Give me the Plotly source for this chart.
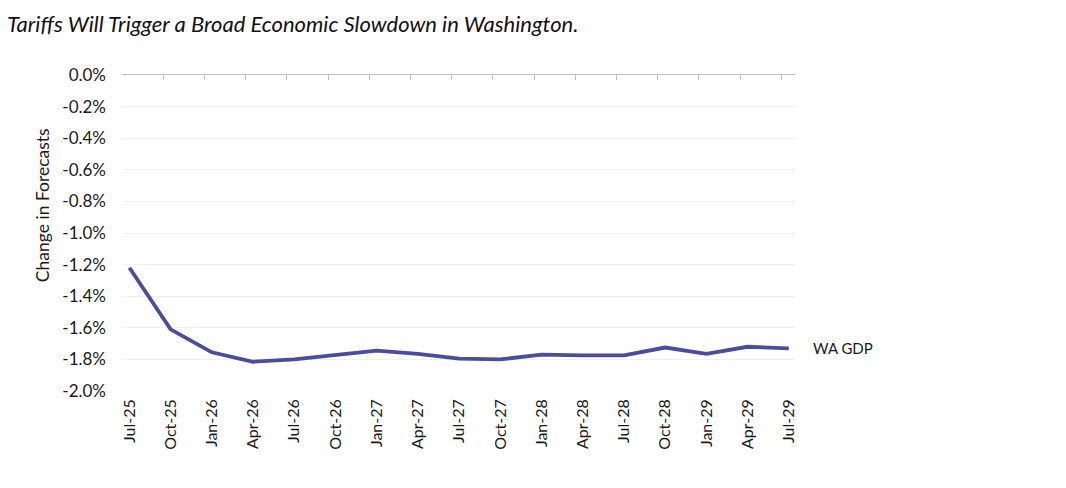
import plotly.graph_objects as go

categories = ["Jul-25", "Oct-25", "Jan-26", "Apr-26", "Jul-26", "Oct-26", "Jan-27", "Apr-27",
              "Jul-27", "Oct-27", "Jan-28", "Apr-28", "Jul-28", "Oct-28", "Jan-29", "Apr-29", "Jul-29"]
wa_gdp_pct = [-1.22, -1.61, -1.755, -1.815, -1.80, -1.775, -1.745, -1.765,
              -1.795, -1.80, -1.77, -1.775, -1.775, -1.725, -1.765, -1.72, -1.73]
ytick_vals = [0.0, -0.2, -0.4, -0.6, -0.8, -1.0, -1.2, -1.4, -1.6, -1.8, -2.0]
ytick_text = ["0.0%", "-0.2%", "-0.4%", "-0.6%", "-0.8%", "-1.0%", "-1.2%", "-1.4%",
              "-1.6%", "-1.8%", "-2.0%"]

FONT = "Lato"
TXT = "#1a1a1a"
xs = list(range(len(categories)))

fig = go.Figure()
fig.add_trace(go.Scatter(x=xs, y=wa_gdp_pct, mode="lines", name="WA GDP",
                         line=dict(color="#4a4c9c", width=3.8), showlegend=False))
fig.add_trace(go.Scatter(x=xs, y=wa_gdp_pct, xaxis="x2", mode="lines",
                         line=dict(width=0), hoverinfo="skip", showlegend=False))

xr = [-0.18, 16.15]
fig.update_layout(
    width=1050, height=472,
    margin=dict(l=114, r=263, t=67, b=89),
    paper_bgcolor="white", plot_bgcolor="white",
    font=dict(family=FONT, size=16, color=TXT),
    xaxis=dict(range=xr, tickmode="array", tickvals=xs, ticktext=categories,
               tickangle=-90, showgrid=False, zeroline=False, showline=False,
               ticks="", ticklabelstandoff=4, tickfont=dict(size=16, color=TXT)),
    xaxis2=dict(range=xr, overlaying="x", side="top", anchor="y",
                tickmode="array", tickvals=[i - 0.18 for i in range(17)],
                showticklabels=False, ticks="inside", ticklen=5, tickcolor="#bfbfbf",
                showline=True, linecolor="#bfbfbf", linewidth=1, showgrid=False, zeroline=False),
    yaxis=dict(range=[-2.0, 0.0], tickmode="array", tickvals=ytick_vals, ticktext=ytick_text,
               showgrid=True, gridcolor="#f0f0f0", gridwidth=1, zeroline=False,
               showline=False, ticks="", ticklabelstandoff=15,
               tickfont=dict(size=17, color=TXT)),
    annotations=[
        dict(x=0.0, xref="paper", xanchor="left", y=1.0, yref="paper", yanchor="top",
             yshift=66, xshift=-116, borderpad=0,
             text="<i>Tariffs Will Trigger a Broad Economic Slowdown in Washington.</i>",
             showarrow=False, font=dict(family=FONT, size=22, color="#111111")),
        dict(x=-0.117, xref="paper", y=0.589, yref="paper", text="Change in Forecasts",
             textangle=-90, showarrow=False, xanchor="center", yanchor="middle",
             font=dict(size=17.5, color=TXT)),
        dict(x=1.0, xref="paper", y=wa_gdp_pct[-1], yref="y", text="WA GDP",
             showarrow=False, xanchor="left", xshift=16,
             font=dict(size=15, color=TXT)),
    ],
)

fig.write_html("out.html")
